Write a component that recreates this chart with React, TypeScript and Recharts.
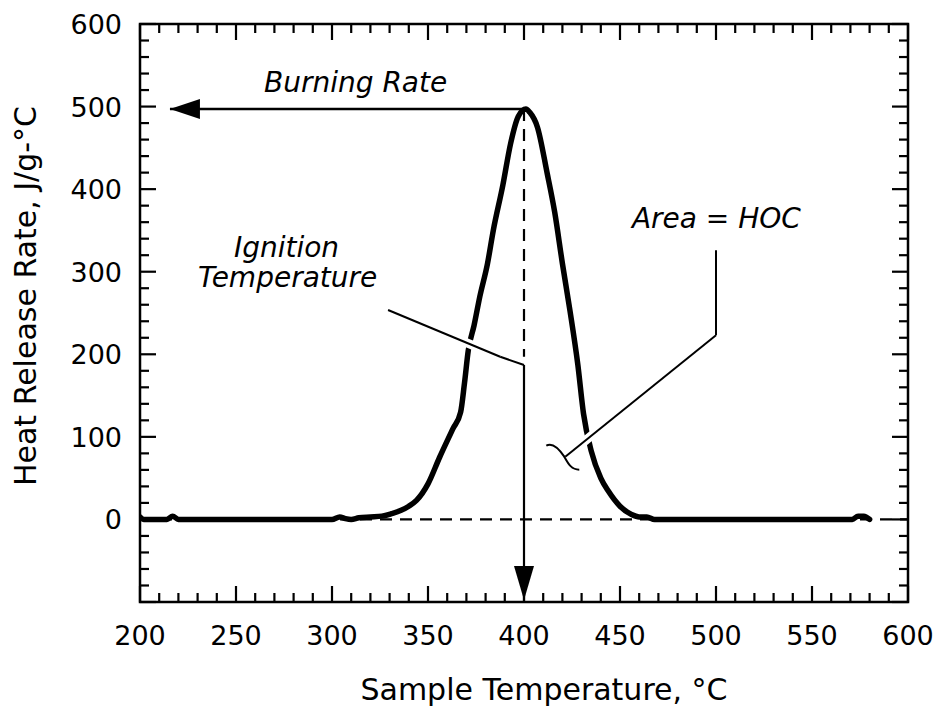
import React from 'react';
import { LineChart, Line, XAxis, YAxis, ReferenceLine, ReferenceDot, ReferenceArea } from 'recharts';

// Sample temperature (°C) and heat release rate (J/g-°C)
const temperatures = [200, 202, 206, 214, 217, 220, 224, 260, 300, 304, 307, 310, 314, 320, 326, 331, 336, 340, 344, 350, 356, 363, 367, 369, 371, 374, 377, 381, 384, 389, 393, 397, 401, 403, 407, 412, 416, 420, 424, 428, 431, 435, 440, 444, 450, 456, 460, 464, 468, 520, 571, 574, 577, 580];
const heatRelease = [3, 0, 0, 0, 4, 0, 0, 0, 0, 3, 1, 0, 2, 3, 4, 7, 11, 16, 23, 43, 75, 110, 130, 165, 205, 235, 270, 310, 350, 405, 455, 488, 497, 493, 475, 420, 372, 310, 252, 188, 128, 83, 50, 34, 16, 6, 3, 3, 0, 0, 0, 4, 4, 0];

const xTicks = [200, 210, 220, 230, 240, 250, 260, 270, 280, 290, 300, 310, 320, 330, 340, 350, 360, 370, 380, 390, 400, 410, 420, 430, 440, 450, 460, 470, 480, 490, 500, 510, 520, 530, 540, 550, 560, 570, 580, 590, 600];
const xLabelTicks = [200, 250, 300, 350, 400, 450, 500, 550, 600];
const yTicks = [-100, -80, -60, -40, -20, 0, 20, 40, 60, 80, 100, 120, 140, 160, 180, 200, 220, 240, 260, 280, 300, 320, 340, 360, 380, 400, 420, 440, 460, 480, 500, 520, 540, 560, 580, 600];
const yLabelTicks = [0, 100, 200, 300, 400, 500, 600];
const xDomain = [200, 600];
const yDomain = [-100, 600];

// annotation anchors (data units: [temperature, heat release rate])
const peakPoint = [400, 497];
const burningArrowTip = [215.6, 497];
const dashedEnd = [400, 197];
const solidStart = [400, 187];
const ignitionArrowTip = [400, -100];
const ignitionLeader = [[329.2, 253.6], [387.6, 197], [400, 187]];
const areaLeader = [[500, 326], [500, 223], [421.5, 76]];
const burningLabel = [312.3, 517.6];
const ignitionLabel1 = [276.3, 317.8];
const ignitionLabel2 = [276.9, 281.5];
const areaLabel = [500.2, 352.9];

const data = temperatures.map((t, i) => ({ t, hrr: heatRelease[i] }));

const FONT = '"DejaVu Sans", Verdana, sans-serif';
const MAJOR = 16;
const MINOR = 9;
const TW = 2.2;

const BottomLabel = (p: any) => {
  const { x, y, payload } = p;
  const v = payload.value;
  if (!xLabelTicks.includes(v)) return <g />;
  return (
    <text x={x} y={y + 43} textAnchor="middle" fontFamily={FONT} fontSize={27} fill="#000">{v}</text>
  );
};

const LeftLabel = (p: any) => {
  const { x, y, payload } = p;
  const v = payload.value;
  if (!yLabelTicks.includes(v)) return <g />;
  return (
    <text x={x - 18} y={y + 10} textAnchor="end" fontFamily={FONT} fontSize={27} fill="#000">{v}</text>
  );
};

// inward tick marks on both ends of a full-height / full-width reference line
const xTickShape = (v: number) => (p: any) => {
  const len = v % 50 === 0 ? MAJOR : MINOR;
  const top = Math.min(p.y1, p.y2);
  const bot = Math.max(p.y1, p.y2);
  return (
    <g>
      <line x1={p.x1} x2={p.x1} y1={bot} y2={bot - len} stroke="#000" strokeWidth={TW} />
      <line x1={p.x1} x2={p.x1} y1={top} y2={top + len} stroke="#000" strokeWidth={TW} />
    </g>
  );
};

const yTickShape = (v: number) => (p: any) => {
  const len = v % 100 === 0 ? MAJOR : MINOR;
  const left = Math.min(p.x1, p.x2);
  const right = Math.max(p.x1, p.x2);
  return (
    <g>
      <line x1={left} x2={left + len} y1={p.y1} y2={p.y1} stroke="#000" strokeWidth={TW} />
      <line x1={right} x2={right - len} y1={p.y1} y2={p.y1} stroke="#000" strokeWidth={TW} />
    </g>
  );
};

// leader line with a white halo (the curve is broken where it is crossed)
const haloLine = (p: any) => {
  const dx = p.x2 - p.x1;
  const dy = p.y2 - p.y1;
  const l = Math.sqrt(dx * dx + dy * dy) || 1;
  const s = 10 / l;
  return (
    <g>
      <line x1={p.x1 + dx * s} y1={p.y1 + dy * s} x2={p.x2 - dx * s} y2={p.y2 - dy * s} stroke="#fff" strokeWidth={9} />
      <line x1={p.x1} y1={p.y1} x2={p.x2} y2={p.y2} stroke="#000" strokeWidth={2} />
    </g>
  );
};

const XTitle = (p: any) => {
  const vb = p.viewBox || { x: 140, y: 602, width: 768, height: 106 };
  return (
    <text x={vb.x + vb.width / 2 + 20} y={vb.y + 98} textAnchor="middle" fontFamily={FONT} fontSize={30} fill="#000">
      Sample Temperature, °C
    </text>
  );
};

const YTitle = (p: any) => {
  const vb = p.viewBox || { x: 0, y: 24, width: 140, height: 578 };
  const cx = vb.x + 36;
  const cy = vb.y + vb.height / 2 - 17;
  return (
    <text x={cx} y={cy} transform={`rotate(-90, ${cx}, ${cy})`} textAnchor="middle" fontFamily={FONT} fontSize={30} fill="#000">
      Heat Release Rate, J/g-°C
    </text>
  );
};

const textShape = (label: string) => (p: any) => (
  <text x={p.cx} y={p.cy} textAnchor="middle" fontFamily={FONT} fontStyle="italic" fontSize={28} fill="#000">
    {label}
  </text>
);

const leftArrowHead = (p: any) => (
  <path d={`M ${p.cx} ${p.cy} L ${p.cx + 30} ${p.cy - 10} L ${p.cx + 30} ${p.cy + 10} Z`} fill="#000" />
);

const downArrowHead = (p: any) => (
  <path d={`M ${p.cx} ${p.cy - 2} L ${p.cx - 10} ${p.cy - 36} L ${p.cx + 10} ${p.cy - 36} Z`} fill="#000" />
);

const squiggle = (p: any) => (
  <path
    d={`M ${p.cx - 19} ${p.cy - 11} C ${p.cx - 12} ${p.cy - 15}, ${p.cx - 5} ${p.cy - 6}, ${p.cx - 1} ${p.cy} C ${p.cx + 3} ${p.cy + 7}, ${p.cx + 6} ${p.cy + 13}, ${p.cx + 14} ${p.cy + 13}`}
    fill="none"
    stroke="#000"
    strokeWidth={2}
  />
);

const seg = (a: number[], b: number[]) => [{ x: a[0], y: a[1] }, { x: b[0], y: b[1] }];

export default function App() {
  const ax = { xAxisId: 'b', yAxisId: 'l' } as any;
  const top = { zIndex: 1200 } as any;
  return (
    <div style={{ position: 'absolute', left: 0, top: 0, width: 937, height: 708, background: '#fff' }}>
      <LineChart width={937} height={708} data={data} margin={{ top: 24, right: 29, left: 0, bottom: 0 }}>
        <XAxis
          xAxisId="b"
          dataKey="t"
          type="number"
          domain={xDomain}
          allowDataOverflow
          ticks={xLabelTicks}
          interval={0}
          tickSize={0}
          tickMargin={0}
          tickLine={false}
          tick={<BottomLabel />}
          axisLine={false}
          height={106}
          label={{ content: <XTitle /> } as any}
        />
        <YAxis
          yAxisId="l"
          type="number"
          domain={yDomain}
          allowDataOverflow
          ticks={yLabelTicks}
          interval={0}
          tickSize={0}
          tickMargin={0}
          tickLine={false}
          tick={<LeftLabel />}
          axisLine={false}
          width={140}
          label={{ content: <YTitle /> } as any}
        />
        <ReferenceArea {...ax} x1={xDomain[0]} x2={xDomain[1]} y1={yDomain[0]} y2={yDomain[1]} fill="none" fillOpacity={0} stroke="#000" strokeWidth={2.5} ifOverflow="visible" />
        {xTicks.map((v) => (
          <ReferenceLine key={`xt${v}`} {...ax} x={v} stroke="#000" shape={xTickShape(v)} ifOverflow="visible" />
        ))}
        {yTicks.map((v) => (
          <ReferenceLine key={`yt${v}`} {...ax} y={v} stroke="#000" shape={yTickShape(v)} ifOverflow="visible" />
        ))}
        <ReferenceLine {...ax} y={0} stroke="#000" strokeWidth={2.2} strokeDasharray="12 8" />
        <ReferenceLine {...ax} segment={seg(peakPoint, dashedEnd)} stroke="#000" strokeWidth={2.2} strokeDasharray="12 8" ifOverflow="visible" />
        <ReferenceLine {...ax} segment={seg(solidStart, ignitionArrowTip)} stroke="#000" strokeWidth={2.2} ifOverflow="visible" />
        <ReferenceLine {...ax} segment={seg(peakPoint, burningArrowTip)} stroke="#000" strokeWidth={2.5} ifOverflow="visible" />
        <ReferenceLine {...ax} {...top} segment={seg(ignitionLeader[0], ignitionLeader[1])} stroke="#000" shape={haloLine} ifOverflow="visible" />
        <ReferenceLine {...ax} segment={seg(ignitionLeader[1], ignitionLeader[2])} stroke="#000" strokeWidth={2} ifOverflow="visible" />
        <ReferenceLine {...ax} segment={seg(areaLeader[0], areaLeader[1])} stroke="#000" strokeWidth={2} ifOverflow="visible" />
        <ReferenceLine {...ax} {...top} segment={seg(areaLeader[1], areaLeader[2])} stroke="#000" shape={haloLine} ifOverflow="visible" />
        <ReferenceDot {...ax} x={burningArrowTip[0]} y={burningArrowTip[1]} r={0} shape={leftArrowHead} ifOverflow="visible" />
        <ReferenceDot {...ax} x={ignitionArrowTip[0]} y={ignitionArrowTip[1]} r={0} shape={downArrowHead} ifOverflow="visible" />
        <ReferenceDot {...ax} {...top} x={areaLeader[2][0]} y={areaLeader[2][1]} r={0} shape={squiggle} ifOverflow="visible" />
        <ReferenceDot {...ax} x={burningLabel[0]} y={burningLabel[1]} r={0} shape={textShape('Burning Rate')} ifOverflow="visible" />
        <ReferenceDot {...ax} x={ignitionLabel1[0]} y={ignitionLabel1[1]} r={0} shape={textShape('Ignition')} ifOverflow="visible" />
        <ReferenceDot {...ax} x={ignitionLabel2[0]} y={ignitionLabel2[1]} r={0} shape={textShape('Temperature')} ifOverflow="visible" />
        <ReferenceDot {...ax} x={areaLabel[0]} y={areaLabel[1]} r={0} shape={textShape('Area = HOC')} ifOverflow="visible" />
        <Line
          xAxisId="b"
          yAxisId="l"
          type="monotone"
          dataKey="hrr"
          stroke="#000"
          strokeWidth={5.5}
          strokeLinejoin="round"
          strokeLinecap="round"
          dot={false}
          activeDot={false}
          isAnimationActive={false}
        />
      </LineChart>
    </div>
  );
}
